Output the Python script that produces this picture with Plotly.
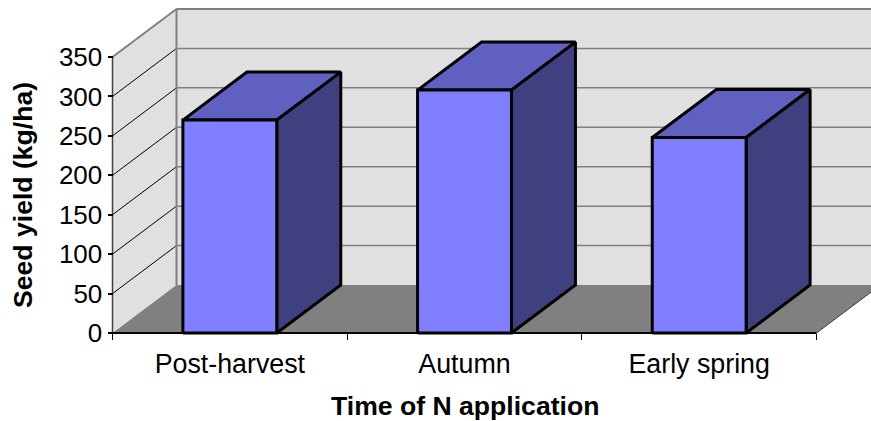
import plotly.graph_objects as go

categories = ["Post-harvest", "Autumn", "Early spring"]
seed_yield = [270, 308, 248]
y_ticks = [0, 50, 100, 150, 200, 250, 300, 350]
y_title = "Seed yield (kg/ha)"
x_title = "Time of N application"

W, H = 871, 421
LEFT, BASE = 112.5, 333
PX_PER_CAT = 234.67
PX_PER_VAL = 276 / 350
DX = 64 / PX_PER_CAT      # depth of the 3D box, in category units
DY = 48 / PX_PER_VAL      # depth of the 3D box, in value units
BAR_W = 0.40
YMAX = y_ticks[-1]
X0, X1 = -0.5, len(categories) - 0.5

xr = [X0 - LEFT / PX_PER_CAT, X0 + (W - LEFT) / PX_PER_CAT]
yr = [-(H - BASE) / PX_PER_VAL, BASE / PX_PER_VAL]

WALL, FLOOR, GREY = "#E0E0E0", "#808080", "#808080"
FRONT, TOP, SIDE = "#8080FF", "#6060C0", "#404080"

fig = go.Figure()


def poly(xs, ys, fill, line=None, width=0):
    fig.add_trace(go.Scatter(
        x=xs, y=ys, mode="lines", fill="toself", fillcolor=fill,
        line=dict(color=line or fill, width=width), hoverinfo="skip", showlegend=False))


def seg(xs, ys, color, width):
    fig.add_trace(go.Scatter(
        x=xs, y=ys, mode="lines", line=dict(color=color, width=width),
        hoverinfo="skip", showlegend=False))


# walls and floor
poly([X0 + DX, X1 + DX, X1 + DX, X0 + DX, X0 + DX], [DY, DY, YMAX + DY, YMAX + DY, DY], WALL)
poly([X0, X0 + DX, X0 + DX, X0, X0], [0, DY, YMAX + DY, YMAX, 0], WALL)
poly([X0, X1, X1 + DX, X0 + DX, X0], [0, 0, DY, DY, 0], FLOOR)

# gridlines: black on the side wall, grey on the back wall
for t in y_ticks[1:-1]:
    seg([X0, X0 + DX], [t, t + DY], "#000000", 1)
    seg([X0 + DX, X1 + DX], [t + DY, t + DY], GREY, 1.5)
seg([X0 + DX, X1 + DX], [YMAX + DY, YMAX + DY], GREY, 2)
seg([X0, X0 + DX, X0 + DX], [YMAX, YMAX + DY, DY], GREY, 2)
seg([X1, X1 + DX], [0, DY], "#404040", 1)

# bars
for i, v in enumerate(seed_yield):
    a, b = i - BAR_W / 2, i + BAR_W / 2
    poly([a, b, b + DX, a + DX, a], [v, v, v + DY, v + DY, v], TOP, "#000000", 3)
    poly([b, b + DX, b + DX, b, b], [0, DY, v + DY, v, 0], SIDE, "#000000", 3)
    poly([a, b, b, a, a], [0, 0, v, v, 0], FRONT, "#000000", 3)

# axis lines
seg([X0, X0], [0, YMAX], "#404040", 1.5)
seg([X0, X1], [0, 0], "#000000", 2)

FAMILY = "Liberation Sans, Arial, sans-serif"
font = dict(family=FAMILY, size=26, color="#000000")
xfont = dict(family=FAMILY, size=26.8, color="#000000")
tfont = dict(family=FAMILY, size=26.6, color="#000000")

fig.update_layout(
    width=W, height=H, margin=dict(l=0, r=0, t=0, b=0),
    paper_bgcolor="#FFFFFF", plot_bgcolor="#FFFFFF", showlegend=False, font=font,
    xaxis=dict(
        range=xr, domain=[0, 1], anchor="free", position=(H - BASE) / H,
        tickmode="array", tickvals=list(range(len(categories))), ticktext=categories,
        ticks="", showgrid=False, zeroline=False, showline=False, tickfont=xfont,
        ticklabelstandoff=12,
        minor=dict(tickmode="array", tickvals=[X0 + k for k in range(len(categories) + 1)],
                   ticks="outside", ticklen=6, tickwidth=1, tickcolor="#000000", showgrid=False),
    ),
    yaxis=dict(
        range=yr, domain=[0, 1], anchor="free", position=LEFT / W,
        tickmode="array", tickvals=y_ticks, ticks="outside", ticklen=5, tickwidth=1.5,
        tickcolor="#000000", showgrid=False, zeroline=False, showline=False, tickfont=font,
    ),
    annotations=[
        dict(text=f"<b>{x_title}</b>", xref="x", x=1, yref="paper", y=(H - 405.5) / H,
             xanchor="center", yanchor="middle", showarrow=False, font=tfont),
        dict(text=f"<b>{y_title}</b>", xref="paper", x=23 / W, yref="y", y=YMAX / 2,
             xanchor="center", yanchor="middle", textangle=-90, showarrow=False, font=tfont),
    ],
)

fig.write_html("out.html", config={"displayModeBar": False},
               post_script="document.body.style.margin='0';")
